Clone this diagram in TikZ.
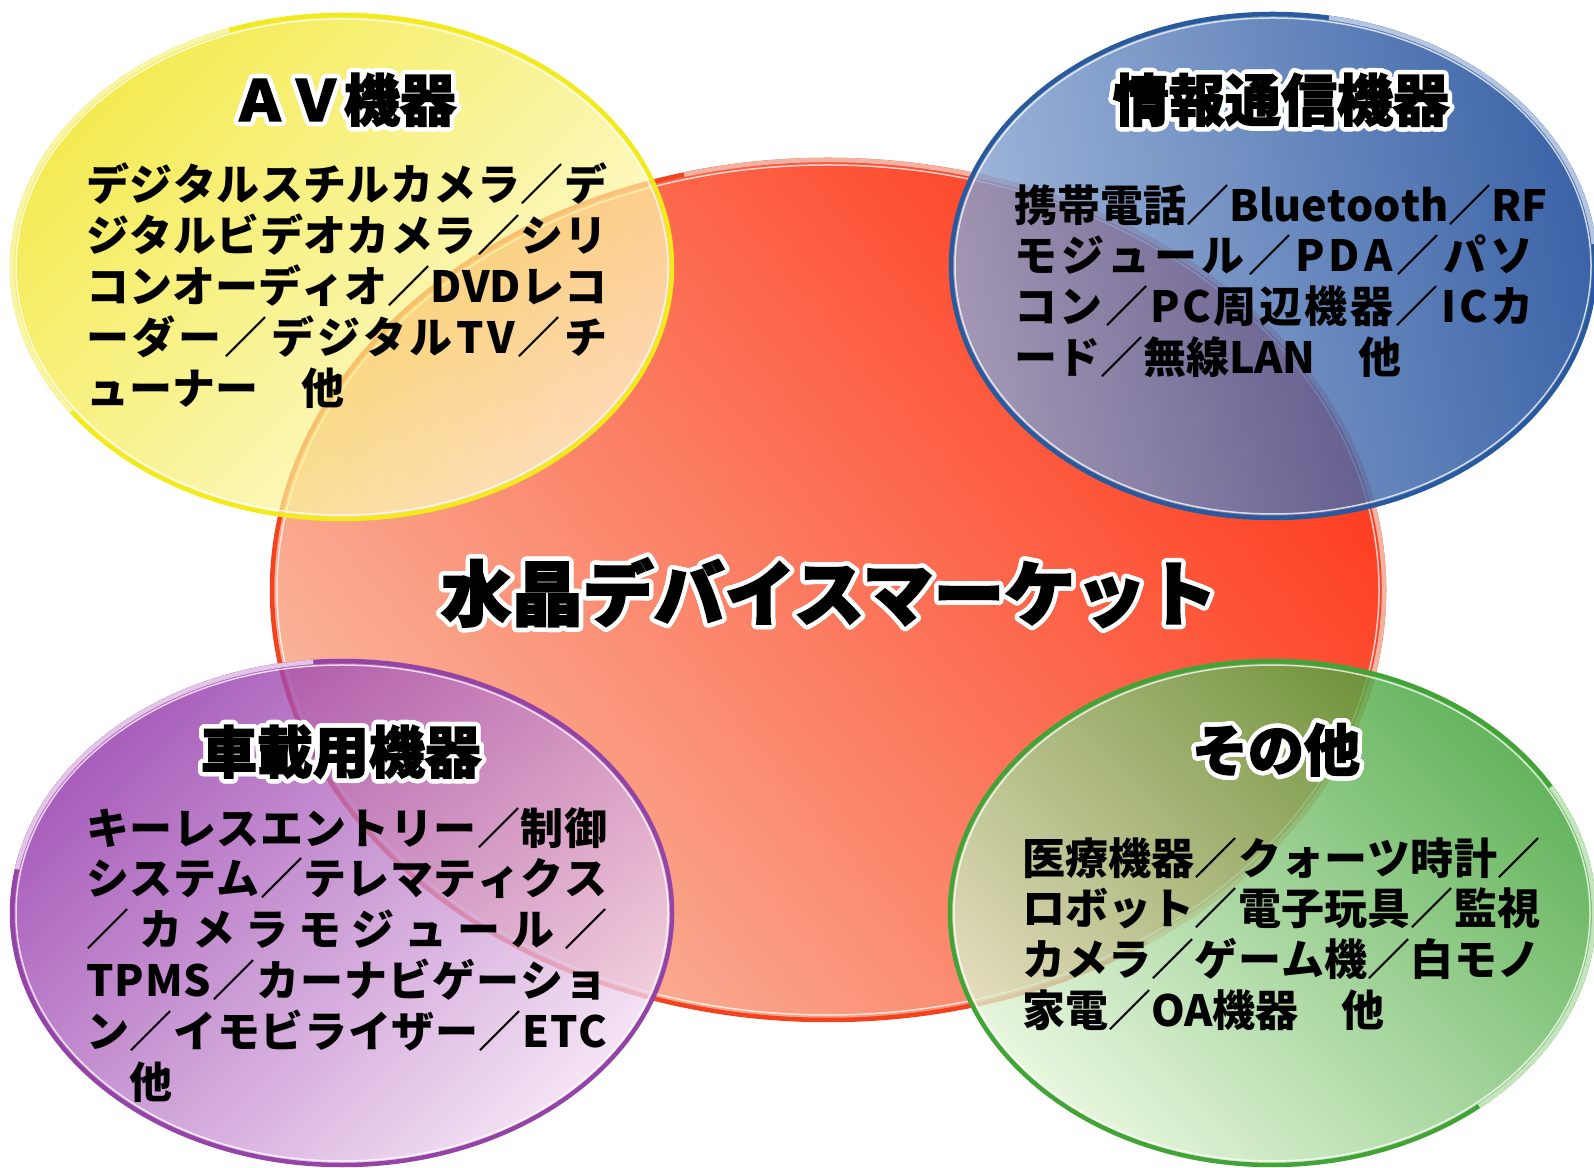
\documentclass[tikz,border=0pt]{standalone}
\usepackage{fontspec}
\setmainfont{Noto Sans CJK JP}
\newfontfamily\heavyfont{Noto Sans CJK JP}[FakeBold=2.4]
\usepackage{contour}
\contourlength{4.5pt}
\contournumber{32}
\definecolor{redA}{HTML}{FE3A1E}
\definecolor{redB}{HTML}{F9B69C}
\definecolor{redL}{HTML}{F2421E}
\definecolor{redR}{HTML}{F5B2A0}
\definecolor{yelA}{HTML}{F0E410}
\definecolor{yelB}{HTML}{FFFBD0}
\definecolor{yelL}{HTML}{F2EA1C}
\definecolor{yelR}{HTML}{F8F4A8}
\definecolor{bluA}{HTML}{0C3E92}
\definecolor{bluB}{HTML}{8AA6D2}
\definecolor{bluL}{HTML}{2A5A9E}
\definecolor{bluR}{HTML}{B4C6E2}
\definecolor{purA}{HTML}{9030A8}
\definecolor{purB}{HTML}{F2DCF2}
\definecolor{purL}{HTML}{9444A6}
\definecolor{purR}{HTML}{E4C4E8}
\definecolor{grnA}{HTML}{3AA030}
\definecolor{grnB}{HTML}{E2F5D6}
\definecolor{grnL}{HTML}{42A436}
\definecolor{grnR}{HTML}{C4E6BC}
\newlength\jw
\makeatletter
\newcommand\jl[1]{\makebox[\jw][s]{\@tfor\jc:=#1\do{\jc\hfil}\unskip}}
\makeatother
\tikzset{
  body/.style={anchor=north west, inner sep=0pt, align=left, text=black,
    font=\bfseries\fontsize{43}{50.8}\selectfont},
  ttl/.style={inner sep=0pt, text=black, font=\heavyfont\bfseries\fontsize{56}{60}\selectfont},
  bigttl/.style={inner sep=0pt, text=black, font=\heavyfont\bfseries\fontsize{71}{75}\selectfont},
  rim/.style={line width=4.5pt},
  gloss/.style={white, opacity=0.75, line width=1.5pt}
}
\begin{document}
\begin{tikzpicture}[x=1pt,y=1pt]
\useasboundingbox (0,0) rectangle (1594,1167);
\fill[white] (0,0) rectangle (1594,1167);
% central red ellipse
\shade[top color=redA, bottom color=redB, shading angle=-50]
  (828,577) ellipse [x radius=556, y radius=430];
\draw[redL, rim] (828,577) ellipse [x radius=556, y radius=430];
\draw[redR, rim] (828,577) ++(-55:556 and 430)
  arc [start angle=-55, end angle=105, x radius=556, y radius=430];
\draw[gloss] (828,577) ellipse [x radius=551, y radius=425];
% yellow
\shade[top color=yelA, bottom color=yelB, shading angle=45, fill opacity=0.72]
  (342,900) ellipse [x radius=330, y radius=252];
\draw[yelL, rim] (342,900) ellipse [x radius=330, y radius=252];
\draw[yelR, rim] (342,900) ++(110:330 and 252)
  arc [start angle=110, end angle=215, x radius=330, y radius=252];
\draw[gloss] (342,900) ellipse [x radius=326, y radius=248];
% blue
\shade[top color=bluA, bottom color=bluB, shading angle=-80, fill opacity=0.8]
  (1273,901) ellipse [x radius=322, y radius=252];
\draw[bluL, rim] (1273,901) ellipse [x radius=322, y radius=252];
\draw[bluR, rim] (1273,901) ++(5:322 and 252)
  arc [start angle=5, end angle=80, x radius=322, y radius=252];
\draw[gloss] (1273,901) ellipse [x radius=318, y radius=248];
% purple
\shade[top color=purA, bottom color=purB, shading angle=45, fill opacity=0.78]
  (342,254) ellipse [x radius=330, y radius=252];
\draw[purL, rim] (342,254) ellipse [x radius=330, y radius=252];
\draw[purR, rim] (342,254) ++(95:330 and 252)
  arc [start angle=95, end angle=170, x radius=330, y radius=252];
\draw[gloss] (342,254) ellipse [x radius=326, y radius=248];
% green
\shade[top color=grnA, bottom color=grnB, shading angle=-45, fill opacity=0.78]
  (1272,254) ellipse [x radius=322, y radius=252];
\draw[grnL, rim] (1272,254) ellipse [x radius=322, y radius=252];
\draw[grnR, rim] (1272,254) ++(-50:322 and 252)
  arc [start angle=-50, end angle=30, x radius=322, y radius=252];
\draw[gloss] (1272,254) ellipse [x radius=318, y radius=248];
% titles
\node[ttl] (avt) at (344,1065) {\contour{white}{ＡＶ機器}};
\node[ttl] (infot) at (1281,1065) {\contour{white}{情報通信機器}};
\node[ttl] (cart) at (341,413) {\contour{white}{車載用機器}};
\node[ttl] (etct) at (1276,415) {\contour{white}{その他}};
\node[bigttl] (market) at (829,572) {\contour{white}{水晶デバイスマーケット}};
% body texts
\setlength\jw{521pt}
\node[body] (avx) at (86,1004) {\jl{デジタルスチルカメラ／デ}\\
  \jl{ジタルビデオカメラ／シリ}\\
  \jl{コンオーディオ／DVDレコ}\\
  \jl{ーダー／デジタルTV／チ}\\
  ューナー　他};
\setlength\jw{519pt}
\node[body] (infox) at (1014,983) {\jl{携帯電話／Bluetooth／RF}\\
  \jl{モジュール／PDA／パソ}\\
  \jl{コン／PC周辺機器／ICカ}\\
  ード／無線LAN　他};
\setlength\jw{521pt}
\node[body] (carx) at (86,360) {\jl{キーレスエントリー／制御}\\
  \jl{システム／テレマティクス}\\
  \jl{／カメラモジュール／}\\
  \jl{TPMS／カーナビゲーショ}\\
  \jl{ン／イモビライザー／ETC}\\
  　他};
\setlength\jw{518pt}
\node[body] (etcx) at (1022,330) {\jl{医療機器／クォーツ時計／}\\
  \jl{ロボット／電子玩具／監視}\\
  \jl{カメラ／ゲーム機／白モノ}\\
  家電／OA機器　他};
\end{tikzpicture}
\end{document}
